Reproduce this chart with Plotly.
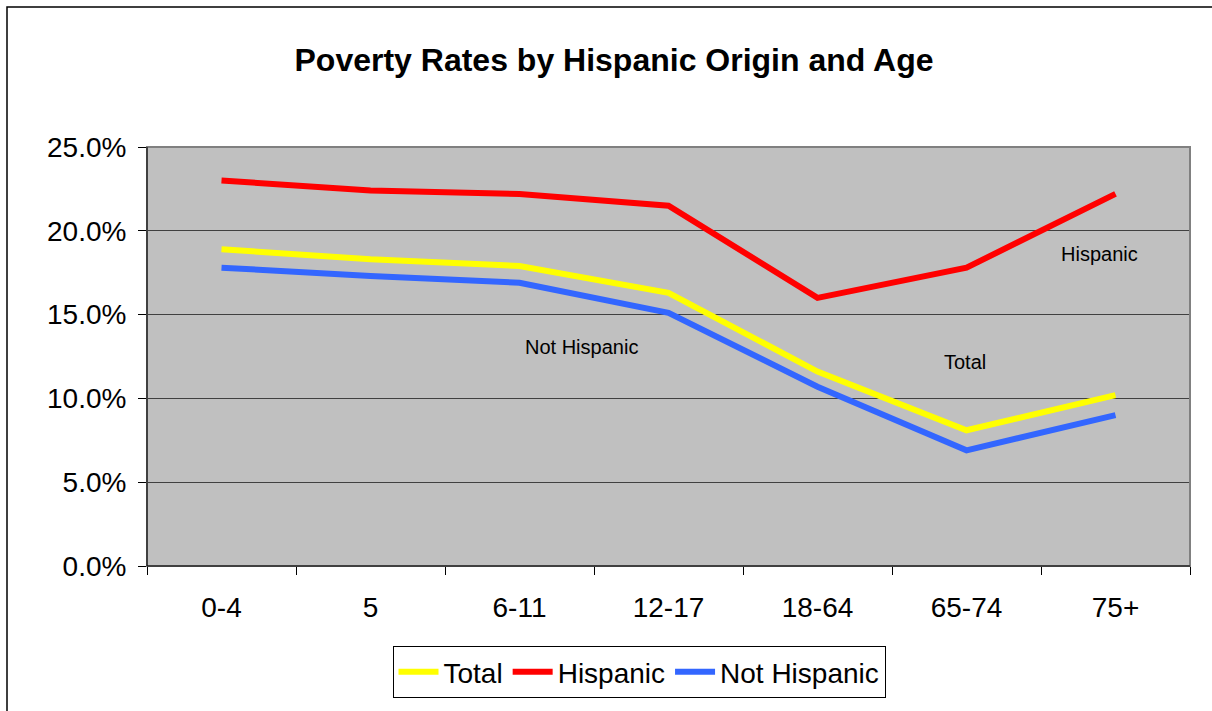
import plotly.graph_objects as go

categories = ["0-4", "5", "6-11", "12-17", "18-64", "65-74", "75+"]
total = [18.9, 18.3, 17.9, 16.3, 11.6, 8.1, 10.2]
hispanic = [23.0, 22.4, 22.2, 21.5, 16.0, 17.8, 22.2]
not_hispanic = [17.8, 17.3, 16.9, 15.1, 10.7, 6.9, 9.0]

W, H = 1212, 711
L, R, T, B = 147, 1190, 147, 566

fig = go.Figure()
fig.add_trace(go.Scatter(x=categories, y=total, name="Total", mode="lines",
                         line=dict(color="#FFFF00", width=6)))
fig.add_trace(go.Scatter(x=categories, y=hispanic, name="Hispanic", mode="lines",
                         line=dict(color="#FF0000", width=6)))
fig.add_trace(go.Scatter(x=categories, y=not_hispanic, name="Not Hispanic", mode="lines",
                         line=dict(color="#3366FF", width=6)))

def px_x(x):
    return (x - L) / (R - L)

def px_y(y):
    return (B - y) / (B - T)

fig.update_layout(
    width=W, height=H,
    margin=dict(l=L, r=W - R, t=T, b=H - B, pad=0),
    paper_bgcolor="white",
    plot_bgcolor="#C0C0C0",
    font=dict(family="Arial, Liberation Sans, sans-serif", color="black"),
    title=dict(text="<b>Poverty Rates by Hispanic Origin and Age</b>",
               x=px_x(614), xref="paper", xanchor="center",
               y=1 - 60 / H, yanchor="middle", font=dict(size=32)),
    showlegend=True,
    legend=dict(orientation="h", x=px_x(639), xanchor="center",
                y=px_y(672), yanchor="middle",
                bordercolor="black", borderwidth=1, bgcolor="white",
                font=dict(size=28), itemwidth=40, tracegroupgap=0),
    xaxis=dict(type="category", range=[-0.5, 6.5], showgrid=False,
               showline=True, linecolor="black", linewidth=1,
               ticks="outside", tickson="boundaries", ticklen=8,
               tickcolor="black", tickfont=dict(size=28),
               ticklabelstandoff=16, zeroline=False),
    yaxis=dict(range=[0, 25], dtick=5, tickformat=".1f", ticksuffix="%",
               showgrid=True, gridcolor="#404040", gridwidth=1,
               showline=True, linecolor="black", linewidth=1,
               ticks="outside", ticklen=8, tickcolor="black",
               tickfont=dict(size=28), ticklabelstandoff=6, zeroline=False),
    shapes=[
        dict(type="rect", xref="paper", yref="paper", x0=0, x1=1, y0=0, y1=1,
             line=dict(color="#808080", width=2), layer="above"),
        dict(type="line", xref="paper", yref="paper", x0=0, x1=0, y0=0, y1=1,
             line=dict(color="black", width=1), layer="above"),
        dict(type="line", xref="paper", yref="paper", x0=0, x1=1, y0=0, y1=0,
             line=dict(color="black", width=1), layer="above"),
        dict(type="rect", xref="paper", yref="paper",
             x0=px_x(7), x1=px_x(1230), y0=px_y(730), y1=px_y(7),
             line=dict(color="black", width=1.5), layer="below"),
    ],
    annotations=[
        dict(text="Not Hispanic", x=px_x(581), y=px_y(347), xref="paper", yref="paper",
             xanchor="center", yanchor="middle", showarrow=False, font=dict(size=20)),
        dict(text="Total", x=px_x(965), y=px_y(362), xref="paper", yref="paper",
             xanchor="center", yanchor="middle", showarrow=False, font=dict(size=20)),
        dict(text="Hispanic", x=px_x(1099), y=px_y(254), xref="paper", yref="paper",
             xanchor="center", yanchor="middle", showarrow=False, font=dict(size=20)),
    ],
)

fig.write_html("out.html")
